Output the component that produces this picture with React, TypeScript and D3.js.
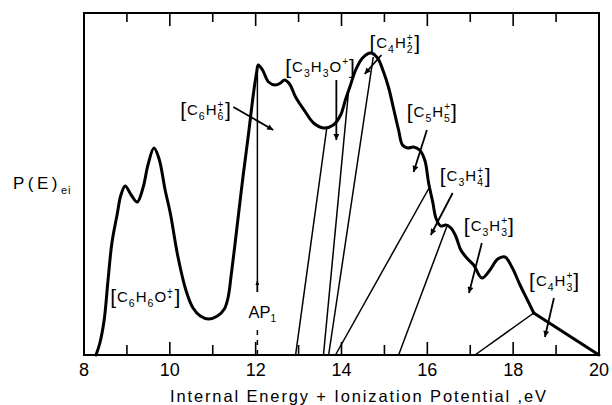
import React from "react";
import * as d3 from "d3";

// --- data (energy in eV, P(E) in arbitrary units) ---
const energy = [8.28, 8.37, 8.47, 8.56, 8.65, 8.77, 8.86, 8.96, 9.1, 9.24, 9.38, 9.49, 9.63, 9.75, 9.89, 10.01, 10.19, 10.38, 10.54, 10.71, 10.9, 11.11, 11.27, 11.36, 11.43, 11.53, 11.62, 11.71, 11.83, 11.95, 12.02, 12.06, 12.16, 12.3, 12.46, 12.58, 12.67, 12.79, 12.93, 13.16, 13.35, 13.58, 13.81, 13.98, 14.09, 14.21, 14.33, 14.49, 14.68, 14.84, 14.98, 15.1, 15.21, 15.33, 15.42, 15.54, 15.68, 15.82, 15.94, 16.03, 16.13, 16.2, 16.31, 16.43, 16.55, 16.66, 16.78, 16.92, 17.08, 17.27, 17.46, 17.64, 17.81, 17.97, 18.16, 18.32, 18.48];
const pe = [0, 12, 35, 75, 112, 140, 160, 169, 160, 153, 168, 190, 207, 196, 165, 142, 98, 64, 47, 39, 36, 39, 46, 58, 80, 115, 148, 180, 220, 262, 282, 290, 285, 273, 270, 272, 275, 271, 258, 243, 232, 227, 230, 240, 255, 270, 285, 297, 302, 297, 283, 267, 247, 225, 210, 207, 208, 205, 195, 172, 152, 137, 129, 130, 127, 119, 105, 97, 90, 77, 85, 96, 98, 88, 70, 56, 42];
// straight tail after the last break
const tailEnergy = [18.48, 20];
const tailPe = [42, 0];

// onset lines (base energy -> point on curve)
const onsetStart = [12.93, 13.58, 13.7, 13.86, 15.33, 17.11];
const onsetEndEnergy = [13.66, 14.16, 14.74, 16.04, 16.45, 18.48];
const onsetEndPe = [228, 262, 298, 167, 128, 42];

// ion labels and their arrows
const ionLabels = ["C6H6O+·", "C6H6+·", "C3H3O+", "C4H2+·", "C5H5+", "C3H4+·", "C3H3+", "C4H3+"];
const labelEnergy = [8.61, 10.24, 12.69, 14.65, 15.52, 16.29, 16.85, 18.37];
const labelPe = [53, 240, 283, 307, 238, 174, 124, 69];
const arrowFromEnergy = [null, 11.48, 13.88, 14.93, 15.99, 16.59, 17.27, 18.95];
const arrowFromPe = [null, 248, 275, 300, 225, 162, 112, 57];
const arrowToEnergy = [null, 12.41, 13.88, 14.54, 15.68, 16.08, 16.97, 18.74];
const arrowToPe = [null, 225, 215, 281, 183, 120, 62, 18];

// appearance potential marker
const apEnergy = 12.04;
const apPe = [288, 63, 74, 37, 25];

const majorTicks = [8, 10, 12, 14, 16, 18, 20];
const tickLabels = ["8", "10", "12", "14", "16", "18", "20"];
const minorTicks = [9, 11, 13, 15, 17, 19];

const FONT = "'Liberation Sans', Arial, sans-serif";

const Formula = ({ x, y, label }: { x: number; y: number; label: string }) => {
  const spans: React.ReactNode[] = [];
  let shift = 0;
  let k = 0;
  const add = (s: string, target: number, size: number, dx = 0, weight = "normal") => {
    spans.push(
      <tspan key={k++} dx={dx} dy={target - shift} fontSize={size} fontWeight={weight}>
        {s}
      </tspan>
    );
    shift = target;
  };
  add("[", 2, 21);
  let subW = 0;
  let extra = 0;
  for (const ch of label) {
    if (/[A-Z]/.test(ch)) {
      add(ch, 0, 15);
      subW = 0;
    } else if (/\d/.test(ch)) {
      add(ch, 5, 10.5);
      subW = 6.8;
    } else if (ch === "+") {
      add("+", -7, 10, subW ? -subW : 0);
    } else if (ch === "·") {
      add("·", -1.5, 13, -5.9, "bold");
      extra = 1.2;
    }
  }
  add("]", 2, 21, extra);
  return (
    <text x={x} y={y} fontFamily={FONT} letterSpacing={1} fill="#000">
      {spans}
    </text>
  );
};

export default function App() {
  const x = d3.scaleLinear().domain([8, 20]).range([84, 599]);
  const y = d3.scaleLinear().domain([0, 342]).range([355, 13]);

  const curve = d3
    .line<number>()
    .x((d, i) => x(energy[i]))
    .y((d) => y(d))
    .curve(d3.curveCatmullRom.alpha(0.5))(pe);
  const tail = d3
    .line<number>()
    .x((d, i) => x(tailEnergy[i]))
    .y((d) => y(d))(tailPe);

  const [y0, y1] = y.range();

  return (
    <svg width={612} height={405} style={{ position: "absolute", left: 0, top: 0, background: "#fff" }}>
      <defs>
        <marker id="ah" viewBox="0 0 10 10" refX={10} refY={5} markerWidth={9} markerHeight={6} orient="auto" markerUnits="userSpaceOnUse">
          <path d="M0,0L10,5L0,10z" fill="#000" />
        </marker>
        <marker id="ahs" viewBox="0 0 10 10" refX={10} refY={5} markerWidth={10} markerHeight={4} orient="auto" markerUnits="userSpaceOnUse">
          <path d="M0,0L10,5L0,10z" fill="#000" />
        </marker>
      </defs>

      {/* frame */}
      <rect x={x(8)} y={y1} width={x(20) - x(8)} height={y0 - y1} fill="none" stroke="#000" strokeWidth={2} />

      {/* ticks, pointing inward on top and bottom */}
      {majorTicks.map((t) => (
        <g key={"M" + t} stroke="#000" strokeWidth={1.6}>
          <line x1={x(t)} x2={x(t)} y1={y0} y2={y0 - 13} />
          <line x1={x(t)} x2={x(t)} y1={y1} y2={y1 + 13} />
        </g>
      ))}
      {minorTicks.map((t) => (
        <g key={"m" + t} stroke="#000" strokeWidth={1.6}>
          <line x1={x(t)} x2={x(t)} y1={y0} y2={y0 - 10} />
          <line x1={x(t)} x2={x(t)} y1={y1} y2={y1 + 9} />
        </g>
      ))}
      {majorTicks.map((t, i) => (
        <text key={"l" + t} x={x(t)} y={376} textAnchor="middle" fontFamily={FONT} fontSize={18}>
          {tickLabels[i]}
        </text>
      ))}

      {/* onset lines */}
      {onsetStart.map((e, i) => (
        <line key={"o" + i} x1={x(e)} y1={y(0)} x2={x(onsetEndEnergy[i])} y2={y(onsetEndPe[i])} stroke="#000" strokeWidth={1.5} />
      ))}

      {/* AP1 marker */}
      <line x1={x(apEnergy)} x2={x(apEnergy)} y1={y(apPe[0])} y2={y(apPe[1])} stroke="#000" strokeWidth={1.5} />
      <line x1={x(apEnergy)} x2={x(apEnergy)} y1={y(apPe[1])} y2={y(apPe[2])} stroke="#000" strokeWidth={1.5} markerEnd="url(#ahs)" />
      <line x1={x(apEnergy)} x2={x(apEnergy)} y1={y(apPe[4])} y2={y(0)} stroke="#000" strokeWidth={1.5} strokeDasharray="5 5" />
      <text x={x(apEnergy) - 9} y={y(apPe[3])} fontFamily={FONT} fontSize={16.5}>
        AP<tspan fontSize={10} dy={4}>1</tspan>
      </text>

      {/* distribution curve */}
      <path d={curve || ""} fill="none" stroke="#000" strokeWidth={3} strokeLinejoin="round" strokeLinecap="round" />
      <path d={tail || ""} fill="none" stroke="#000" strokeWidth={3} strokeLinejoin="round" strokeLinecap="round" />

      {/* ion labels and arrows */}
      {ionLabels.map((lab, i) => (
        <g key={"ion" + i}>
          <Formula x={x(labelEnergy[i])} y={y(labelPe[i])} label={lab} />
          {arrowFromEnergy[i] !== null && (
            <line
              x1={x(arrowFromEnergy[i] as number)}
              y1={y(arrowFromPe[i] as number)}
              x2={x(arrowToEnergy[i] as number)}
              y2={y(arrowToPe[i] as number)}
              stroke="#000"
              strokeWidth={1.8}
              markerEnd="url(#ah)"
            />
          )}
        </g>
      ))}

      {/* axis titles */}
      <text x={13} y={189} fontFamily={FONT} fontSize={17} letterSpacing={3.5}>
        P(E)<tspan fontSize={11} dy={5} letterSpacing={1}>ei</tspan>
      </text>
      <text x={170} y={402} fontFamily={FONT} fontSize={16.5} textLength={376} lengthAdjust="spacing">
        Internal Energy + Ionization Potential ,eV
      </text>
    </svg>
  );
}
